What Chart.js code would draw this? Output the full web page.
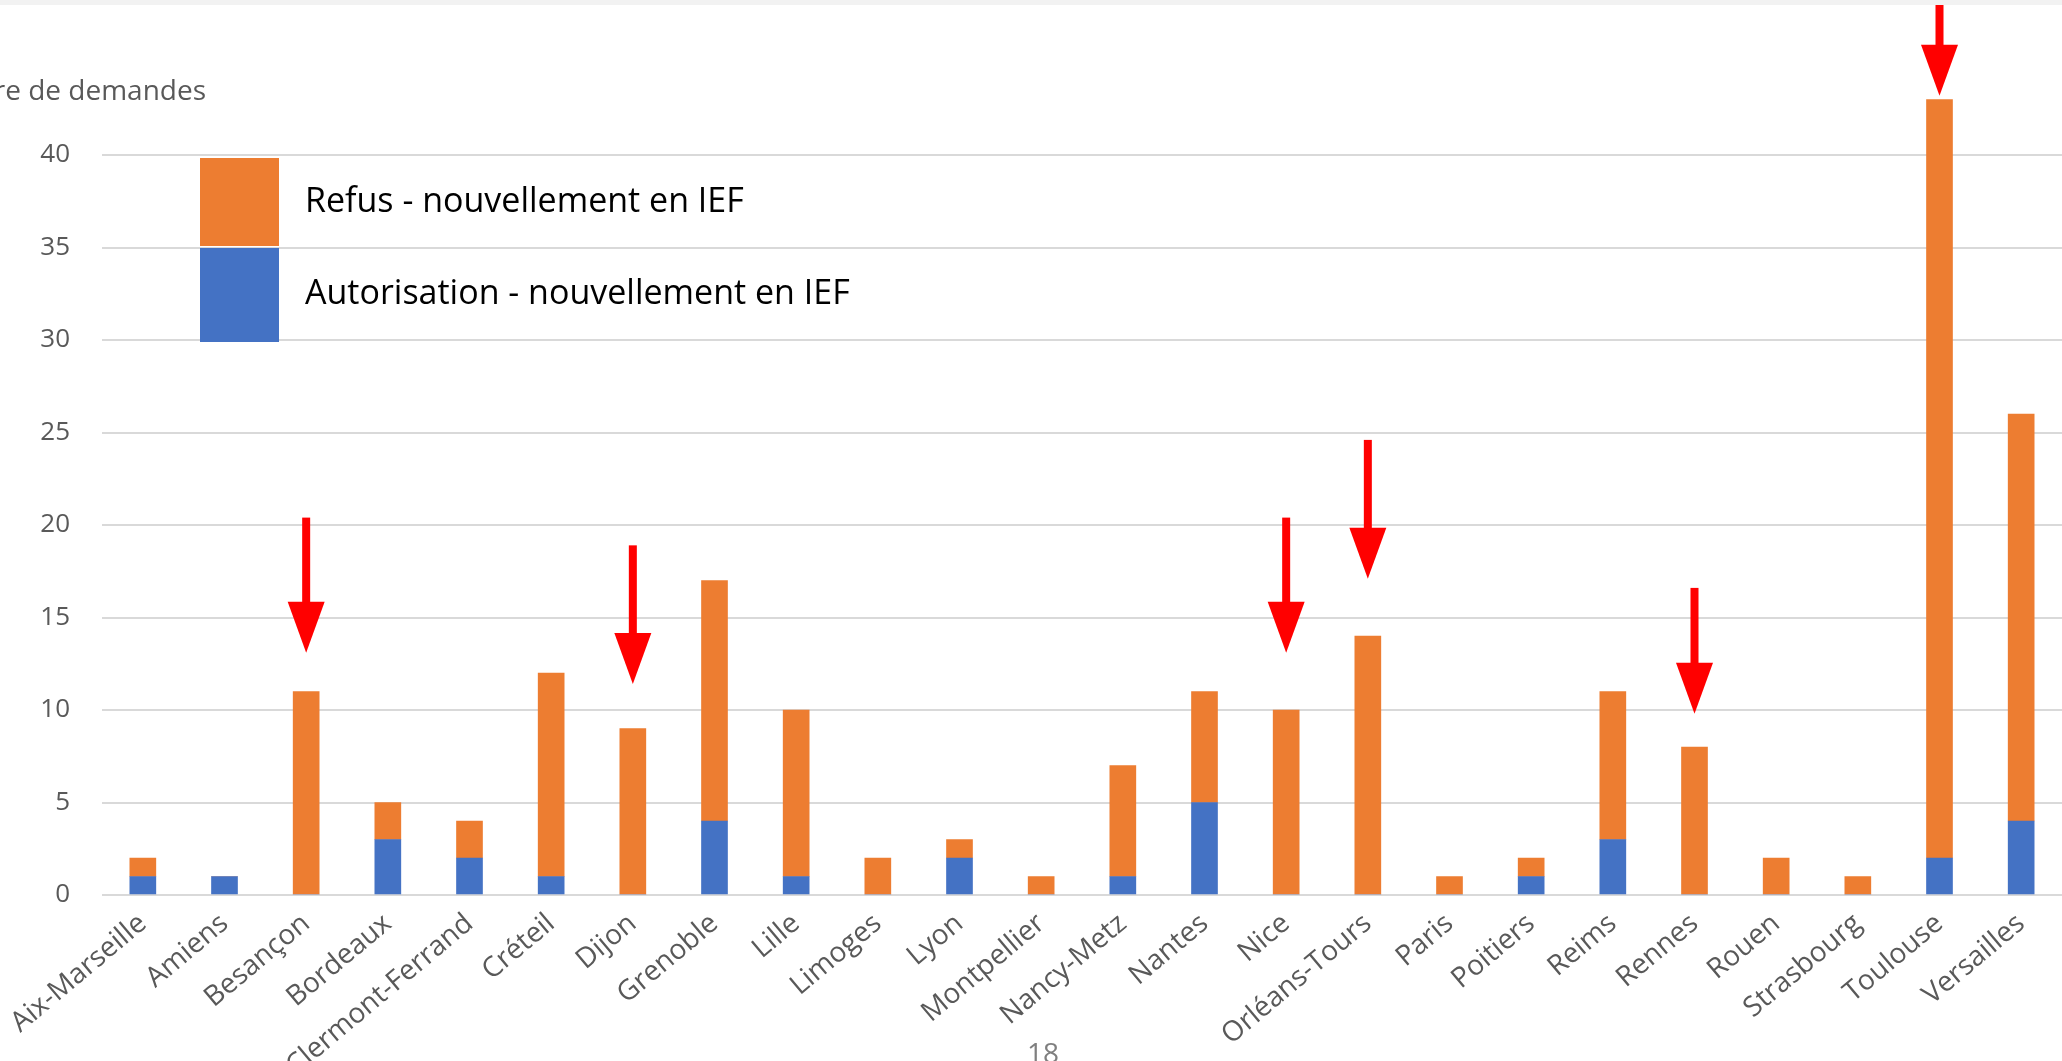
<!DOCTYPE html>
<html lang="fr">
<head>
    <meta charset="utf-8">
    <title>Demandes IEF par académie</title>
    <script src="https://cdn.jsdelivr.net/npm/chart.js@4.4.1/dist/chart.umd.min.js"></script>
    <style>
        html, body { margin: 0; padding: 0; background: #f2f2f2; overflow: hidden; }
        #wrap { position: absolute; left: 0; top: 5px; width: 2062px; height: 1056px; background: #ffffff; }
    </style>
</head>
<body>
<div id="wrap">
    <canvas id="chart-ief" width="2062" height="1056"></canvas>
</div>

<script type="text/javascript">
    // academies (axe x)
    var academies = ['Aix-Marseille', 'Amiens', 'Besançon', 'Bordeaux', 'Clermont-Ferrand', 'Créteil', 'Dijon',
        'Grenoble', 'Lille', 'Limoges', 'Lyon', 'Montpellier', 'Nancy-Metz', 'Nantes', 'Nice', 'Orléans-Tours',
        'Paris', 'Poitiers', 'Reims', 'Rennes', 'Rouen', 'Strasbourg', 'Toulouse', 'Versailles'];

    // autorisations (bas de la pile)
    var autorisation = [1, 1, 0, 3, 2, 1, 0, 4, 1, 0, 2, 0, 1, 5, 0, 0, 0, 1, 3, 0, 0, 0, 2, 4];
    // refus (haut de la pile)
    var refus = [1, 0, 11, 2, 2, 11, 9, 13, 9, 2, 1, 1, 6, 6, 10, 14, 1, 1, 8, 8, 2, 1, 41, 22];

    var yTicks = [0, 5, 10, 15, 20, 25, 30, 35, 40];

    // fleches rouges : academie, haut de la tige, pointe (en valeurs de l'axe y)
    var arrowCats = ['Besançon', 'Dijon', 'Nice', 'Orléans-Tours', 'Rennes', 'Toulouse'];
    var arrowFrom = [20.4, 18.9, 20.4, 24.6, 16.6, 48.5];
    var arrowTo = [13.1, 11.4, 13.1, 17.1, 9.8, 43.2];

    var ORANGE = '#ED7D31';
    var BLUE = '#4472C4';
    var GREY_TXT = '#595959';

    // titre de l'axe y, legende, fleches et numero de page
    var extras = {
        id: 'extras',
        afterDraw: function (chart) {
            var ctx = chart.ctx;
            var x = chart.scales.x, y = chart.scales.y;
            ctx.save();

            // titre axe y (coupe a gauche comme sur la diapo)
            ctx.fillStyle = GREY_TXT;
            ctx.font = '28px "Open Sans"';
            ctx.textAlign = 'right';
            ctx.textBaseline = 'middle';
            ctx.fillText('Nombre de demandes', 206, 87);

            // legende
            var ds = chart.data.datasets;
            ctx.fillStyle = ds[1].backgroundColor;
            ctx.fillRect(200, 153, 79, 88);
            ctx.fillStyle = ds[0].backgroundColor;
            ctx.fillRect(200, 243, 79, 94);
            ctx.fillStyle = '#000000';
            ctx.font = '34px "Open Sans"';
            ctx.textAlign = 'left';
            ctx.fillText(ds[1].label, 305, 197);
            ctx.fillText(ds[0].label, 305, 289);

            // fleches
            ctx.fillStyle = '#FF0000';
            for (var i = 0; i < arrowCats.length; i++) {
                var cx = x.getPixelForValue(academies.indexOf(arrowCats[i]));
                var top = y.getPixelForValue(arrowFrom[i]);
                var tip = y.getPixelForValue(arrowTo[i]);
                var headTop = tip - 51;
                ctx.fillRect(cx - 4, top, 8, headTop - top + 1);
                ctx.beginPath();
                ctx.moveTo(cx - 18.5, headTop);
                ctx.lineTo(cx + 18.5, headTop);
                ctx.lineTo(cx, tip);
                ctx.closePath();
                ctx.fill();
            }

            // numero de page
            ctx.fillStyle = '#7f7f7f';
            ctx.font = '28px "Open Sans"';
            ctx.textAlign = 'center';
            ctx.textBaseline = 'top';
            ctx.fillText('18', 1043, 1036);
            ctx.restore();
        }
    };

    new Chart(document.getElementById('chart-ief'), {
        type: 'bar',
        data: {
            labels: academies,
            datasets: [{
                label: 'Autorisation - nouvellement en IEF',
                data: autorisation,
                backgroundColor: BLUE,
                barThickness: 26
            }, {
                label: 'Refus - nouvellement en IEF',
                data: refus,
                backgroundColor: ORANGE,
                barThickness: 26
            }]
        },
        options: {
            responsive: false,
            animation: false,
            devicePixelRatio: 1,
            layout: {
                padding: {top: 57.5, left: 0, right: 0, bottom: 0}
            },
            plugins: {
                legend: {display: false},
                tooltip: {enabled: false}
            },
            scales: {
                x: {
                    stacked: true,
                    grid: {display: false, drawTicks: false},
                    border: {display: false},
                    ticks: {
                        color: GREY_TXT,
                        font: {family: '"Open Sans"', size: 28},
                        minRotation: 40,
                        maxRotation: 40,
                        autoSkip: false,
                        padding: 12
                    },
                    afterFit: function (scale) {
                        scale.height = 166;
                    }
                },
                y: {
                    stacked: true,
                    min: 0,
                    max: 45,
                    grid: {color: '#d9d9d9', lineWidth: 2, drawTicks: false},
                    border: {display: false},
                    ticks: {
                        color: GREY_TXT,
                        font: {family: '"Open Sans"', size: 26},
                        padding: 32
                    },
                    afterBuildTicks: function (axis) {
                        axis.ticks = yTicks.map(function (v) {
                            return {value: v};
                        });
                    },
                    afterFit: function (scale) {
                        scale.width = 102;
                    }
                }
            }
        },
        plugins: [extras]
    });
</script>
</body>
</html>
